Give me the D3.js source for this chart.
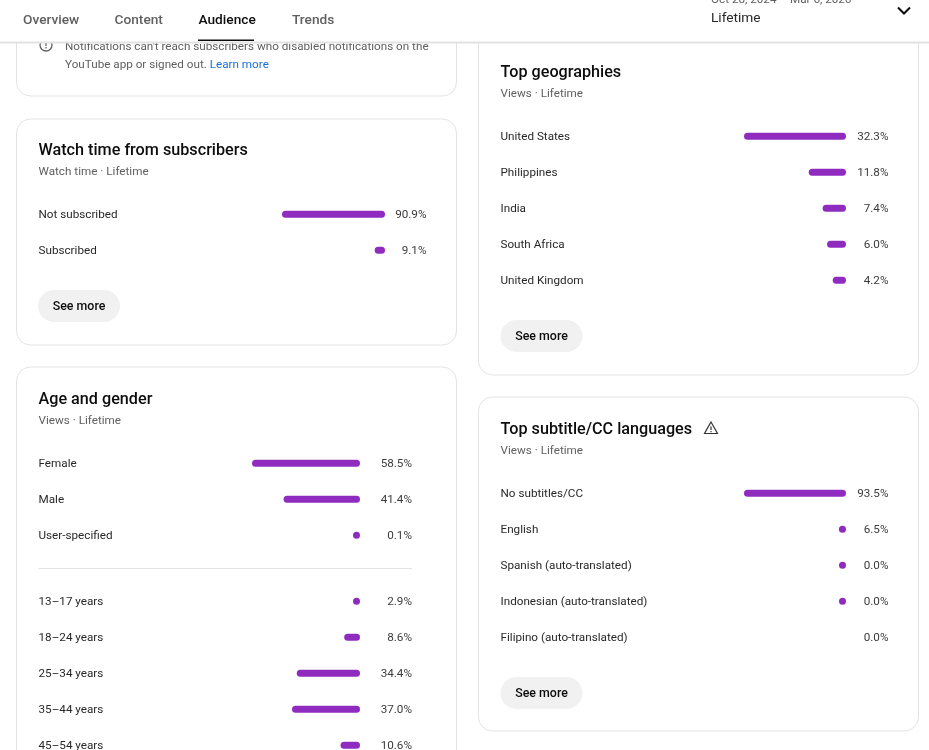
<!DOCTYPE html>
<html>
<head>
<meta charset="utf-8">
<script src="https://cdn.jsdelivr.net/npm/d3@7"></script>
<style>
  html, body { margin: 0; padding: 0; background: #fff; overflow: hidden; }
  svg { display: block; font-family: Roboto, sans-serif; filter: blur(0.3px); }
</style>
</head>
<body>
<svg id="svg" width="929" height="750"></svg>
<script>
// values
const tabs = ["Overview", "Content", "Audience", "Trends"];
const subscriberLabels = ["Not subscribed", "Subscribed"];
const subscriberValues = [90.9, 9.1];
const genderLabels = ["Female", "Male", "User-specified"];
const genderValues = [58.5, 41.4, 0.1];
const ageLabels = ["13–17 years", "18–24 years", "25–34 years", "35–44 years", "45–54 years"];
const ageValues = [2.9, 8.6, 34.4, 37.0, 10.6];
const geoLabels = ["United States", "Philippines", "India", "South Africa", "United Kingdom"];
const geoValues = [32.3, 11.8, 7.4, 6.0, 4.2];
const subtitleLabels = ["No subtitles/CC", "English", "Spanish (auto-translated)", "Indonesian (auto-translated)", "Filipino (auto-translated)"];
const subtitleValues = [93.5, 6.5, 0.04, 0.02, 0];

const svg = d3.select("#svg");
const purple = "#8f2cbf";
const ink = "#0d0d0d";
const grey = "#606060";
const bodySize = 11.7;
const rowGap = 36;
const barH = 7;

function card(x, y, w, h) {
  svg.append("rect")
    .attr("x", x + 0.5).attr("y", y)
    .attr("width", w).attr("height", h)
    .attr("rx", 14)
    .attr("fill", "#fff")
    .attr("stroke", "#e3e3e3");
}

function text(x, y, str, size, color, weight, anchor) {
  return svg.append("text")
    .attr("x", x).attr("y", y)
    .attr("font-size", size)
    .attr("fill", color)
    .attr("font-weight", weight || 400)
    .attr("text-anchor", anchor || "start")
    .text(str);
}

function heading(x, y, title, sub) {
  text(x, y, title, 16.2, ink, 500);
  text(x, y + 19.7, sub, bodySize, grey);
}

// one block of rows: label, bar growing left from barRight, value
function rows(labels, values, opts) {
  const xs = d3.scaleLinear().domain([0, d3.max(values)]).range([0, opts.maxW]);
  const ys = d3.scaleLinear().domain([0, 1]).range([opts.top, opts.top + rowGap]);
  const g = svg.append("g");
  const row = g.selectAll("g").data(labels).join("g")
    .attr("transform", (d, i) => "translate(0," + ys(i) + ")");
  row.append("text")
    .attr("x", opts.labelX).attr("y", 3.7)
    .attr("font-size", bodySize).attr("fill", "#282828")
    .text(d => d);
  const barW = i => Math.max(barH, xs(values[i]));
  row.filter((d, i) => values[i] > 0).append("rect")
    .attr("x", (d) => opts.barRight - barW(labels.indexOf(d)))
    .attr("y", 0.3 - barH / 2)
    .attr("width", d => barW(labels.indexOf(d)))
    .attr("height", barH)
    .attr("rx", barH / 2)
    .attr("fill", purple);
  row.append("text")
    .attr("x", opts.valueRight).attr("y", 3.7)
    .attr("text-anchor", "end")
    .attr("font-size", bodySize).attr("fill", "#3c3c3c")
    .text((d, i) => values[i].toFixed(1) + "%");
}

function seeMore(x, y) {
  svg.append("rect")
    .attr("x", x).attr("y", y)
    .attr("width", 82).attr("height", 32)
    .attr("rx", 16)
    .attr("fill", "#f1f1f1");
  text(x + 41, y + 20, "See more", 12.4, ink, 500, "middle");
}

// left column
card(16, -60, 440, 156);
text(65, 49.8, "Notifications can't reach subscribers who disabled notifications on the", bodySize, grey);
svg.append("text").attr("x", 65).attr("y", 67.8).attr("font-size", bodySize).attr("fill", grey)
  .text("YouTube app or signed out. ")
  .append("tspan").attr("fill", "#1a6fd8").text("Learn more");
svg.append("circle").attr("cx", 46).attr("cy", 45).attr("r", 6)
  .attr("fill", "none").attr("stroke", "#606060").attr("stroke-width", 1.3);
svg.append("path").attr("d", "M46 42v4M46 47v1.5")
  .attr("stroke", "#606060").attr("stroke-width", 1.3);

card(16, 119, 440, 226);
heading(38.5, 155, "Watch time from subscribers", "Watch time · Lifetime");
rows(subscriberLabels, subscriberValues, { top: 214, labelX: 38.5, barRight: 385, maxW: 103, valueRight: 426.5 });
seeMore(38, 290);

card(16, 367, 440, 460);
heading(38.5, 404, "Age and gender", "Views · Lifetime");
rows(genderLabels, genderValues, { top: 463, labelX: 38.5, barRight: 360, maxW: 108, valueRight: 412 });
svg.append("line").attr("x1", 38.5).attr("x2", 412).attr("y1", 568.5).attr("y2", 568.5)
  .attr("stroke", "#e3e3e3");
rows(ageLabels, ageValues, { top: 601, labelX: 38.5, barRight: 360, maxW: 68, valueRight: 412 });

// right column
card(478, -20, 440, 395);
heading(500.5, 77, "Top geographies", "Views · Lifetime");
rows(geoLabels, geoValues, { top: 136, labelX: 500.5, barRight: 846, maxW: 102, valueRight: 888.5 });
seeMore(500.5, 320);

card(478, 397, 440, 334);
heading(500.5, 434, "Top subtitle/CC languages", "Views · Lifetime");
rows(subtitleLabels, subtitleValues, { top: 493, labelX: 500.5, barRight: 846, maxW: 102, valueRight: 888.5 });
seeMore(500.5, 677);
svg.append("path").attr("d", "M711 422l6.5 11.5h-13zM711 426.5v3.6M711 431v1.2")
  .attr("fill", "none").attr("stroke", "#333").attr("stroke-width", 1.2);

// top bar sits over the cards
svg.append("rect").attr("x", 0).attr("y", 41).attr("width", 929).attr("height", 2.5).attr("fill", "#e2e2e2");
svg.append("rect").attr("x", 0).attr("y", 0).attr("width", 929).attr("height", 41.5).attr("fill", "#fff");
const tabX = [23, 114.5, 198.5, 292];
tabs.forEach((t, i) => {
  text(tabX[i], 24, t, 13.7, t === "Audience" ? ink : "#606060", 500);
});
svg.append("rect").attr("x", 198).attr("y", 39.5).attr("width", 56).attr("height", 1.5).attr("fill", ink);
text(711, 3, "Oct 28, 2024 – Mar 6, 2026", bodySize, grey);
text(711, 21.7, "Lifetime", 13.7, "#282828");
svg.append("path").attr("d", "M898 7.5l6 6 6-6")
  .attr("fill", "none").attr("stroke", ink).attr("stroke-width", 2);
</script>
</body>
</html>
